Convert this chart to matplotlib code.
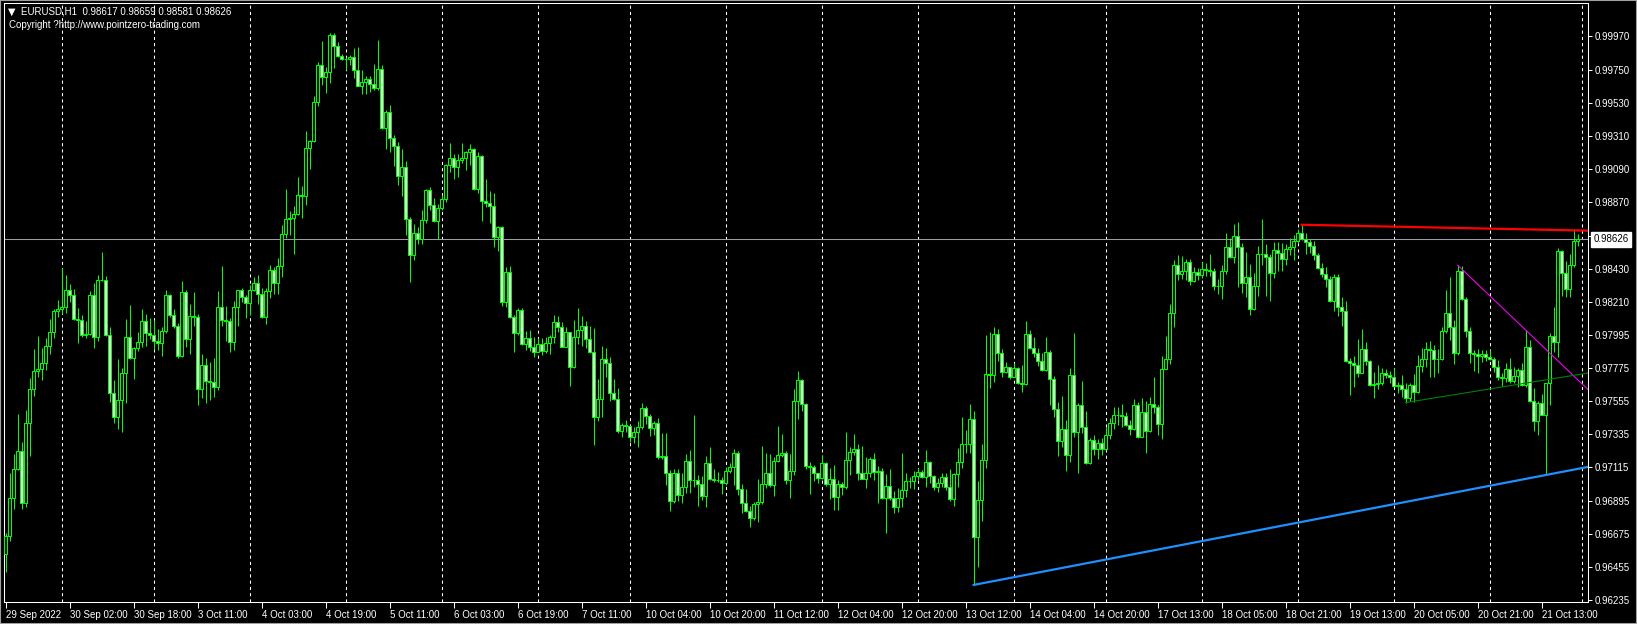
import numpy as np
import pandas as pd
import matplotlib
matplotlib.use("Agg")
import matplotlib.pyplot as plt
from matplotlib.patches import Rectangle
from matplotlib.transforms import blended_transform_factory

plt.rcParams['font.family'] = ['Liberation Sans', 'DejaVu Sans']

# %%
# EURUSD H1 bars (open = previous close)
first_open = 0.96539

closes = [
    0.96661, 0.96910, 0.97102, 0.97224, 0.96882, 0.97407, 0.97632, 0.97754, 0.97769, 0.97809,
    0.97919, 0.98012, 0.98151, 0.98162, 0.98175, 0.98290, 0.98255, 0.98098, 0.98092, 0.97994,
    0.97997, 0.98255, 0.97981, 0.98357, 0.98354, 0.97992, 0.97606, 0.97451, 0.97562, 0.97738,
    0.97977, 0.97840, 0.97904, 0.97946, 0.98085, 0.98003, 0.97990, 0.97955, 0.97937, 0.98017,
    0.98255, 0.98125, 0.98054, 0.97855, 0.98277, 0.97964, 0.98120, 0.98114, 0.97632, 0.97794,
    0.97688, 0.97683, 0.97644, 0.98178, 0.98088, 0.98085, 0.97948, 0.98178, 0.98288, 0.98246,
    0.98207, 0.98288, 0.98335, 0.98266, 0.98114, 0.98284, 0.98421, 0.98333, 0.98447, 0.98664,
    0.98759, 0.98765, 0.98792, 0.98916, 0.98911, 0.99229, 0.99278, 0.99534, 0.99781, 0.99704,
    0.99737, 0.99980, 0.99903, 0.99843, 0.99819, 0.99823, 0.99834, 0.99750, 0.99644, 0.99666,
    0.99686, 0.99653, 0.99627, 0.99752, 0.99362, 0.99468, 0.99300, 0.99242, 0.99048, 0.99102,
    0.98758, 0.98524, 0.98670, 0.98630, 0.98754, 0.98950, 0.98851, 0.98749, 0.98833, 0.98891,
    0.99116, 0.99162, 0.99102, 0.99151, 0.99162, 0.99204, 0.99222, 0.98957, 0.99178, 0.98877,
    0.98868, 0.98846, 0.98643, 0.98705, 0.98213, 0.98411, 0.98113, 0.98007, 0.98157, 0.97932,
    0.97970, 0.97915, 0.97881, 0.97930, 0.97888, 0.97937, 0.97976, 0.98078, 0.98047, 0.97915,
    0.98012, 0.97778, 0.97976, 0.98025, 0.98052, 0.97968, 0.97877, 0.97451, 0.97566, 0.97831,
    0.97805, 0.97610, 0.97568, 0.97359, 0.97394, 0.97389, 0.97319, 0.97352, 0.97381, 0.97509,
    0.97458, 0.97378, 0.97407, 0.97182, 0.97191, 0.97076, 0.96895, 0.97076, 0.96935, 0.96983,
    0.97155, 0.97032, 0.97034, 0.97007, 0.96926, 0.97142, 0.97038, 0.97032, 0.97032, 0.97010,
    0.97089, 0.97120, 0.97208, 0.96974, 0.96877, 0.96824, 0.96780, 0.96873, 0.96886, 0.97005,
    0.97076, 0.96996, 0.97155, 0.97200, 0.97208, 0.97032, 0.97089, 0.97555, 0.97694, 0.97533,
    0.97127, 0.97120, 0.97080, 0.97047, 0.97142, 0.97005, 0.97036, 0.96917, 0.97005, 0.96988,
    0.97164, 0.97215, 0.97235, 0.97080, 0.97041, 0.97076, 0.97173, 0.97087, 0.97089, 0.96912,
    0.96992, 0.96912, 0.96851, 0.96912, 0.96965, 0.97023, 0.97027, 0.97058, 0.97085, 0.97054,
    0.97151, 0.97058, 0.96988, 0.97010, 0.97049, 0.96983, 0.96904, 0.97071, 0.97151, 0.97270,
    0.97272, 0.97434, 0.96656, 0.96899, 0.97164, 0.97734, 0.97725, 0.98000, 0.97870, 0.97749,
    0.97778, 0.97716, 0.97773, 0.97672, 0.97668, 0.97998, 0.97908, 0.97875, 0.97817, 0.97760,
    0.97879, 0.97703, 0.97504, 0.97292, 0.97367, 0.97197, 0.97725, 0.97351, 0.97526, 0.97385,
    0.97142, 0.97296, 0.97234, 0.97274, 0.97239, 0.97327, 0.97407, 0.97460, 0.97462, 0.97455,
    0.97396, 0.97371, 0.97528, 0.97318, 0.97482, 0.97354, 0.97535, 0.97513, 0.97402, 0.97764,
    0.97831, 0.98135, 0.98453, 0.98396, 0.98414, 0.98475, 0.98347, 0.98409, 0.98391, 0.98427,
    0.98422, 0.98414, 0.98319, 0.98316, 0.98414, 0.98573, 0.98511, 0.98648, 0.98573, 0.98334,
    0.98374, 0.98166, 0.98316, 0.98528, 0.98530, 0.98511, 0.98405, 0.98555, 0.98533, 0.98497,
    0.98564, 0.98573, 0.98617, 0.98667, 0.98626, 0.98610, 0.98581, 0.98524, 0.98436, 0.98396,
    0.98361, 0.98219, 0.98374, 0.98179, 0.98149, 0.97822, 0.97804, 0.97791, 0.97742, 0.97897,
    0.97822, 0.97658, 0.97665, 0.97672, 0.97738, 0.97725, 0.97716, 0.97656, 0.97661, 0.97632,
    0.97574, 0.97658, 0.97614, 0.97786, 0.97831, 0.97897, 0.97895, 0.97835, 0.97831, 0.98016,
    0.98135, 0.98047, 0.97870, 0.98416, 0.98232, 0.98021, 0.97870, 0.97868, 0.97855, 0.97864,
    0.97848, 0.97835, 0.97782, 0.97711, 0.97705, 0.97769, 0.97689, 0.97720, 0.97760, 0.97658,
    0.97910, 0.97557, 0.97420, 0.97539, 0.97464, 0.97672, 0.97985, 0.97945, 0.98548, 0.98405,
    0.98294, 0.98453, 0.98617, 0.98626,
]

highs = [
    0.96679, 0.97076, 0.97204, 0.97469, 0.97283, 0.97495, 0.97705, 0.97900, 0.97986, 0.97906,
    0.97972, 0.98100, 0.98162, 0.98224, 0.98436, 0.98390, 0.98330, 0.98295, 0.98171, 0.98122,
    0.98085, 0.98284, 0.98337, 0.98390, 0.98542, 0.98383, 0.98047, 0.97694, 0.97833, 0.97774,
    0.98100, 0.98193, 0.97915, 0.98012, 0.98167, 0.98131, 0.98107, 0.98092, 0.98034, 0.98047,
    0.98290, 0.98264, 0.98162, 0.98070, 0.98352, 0.98290, 0.98198, 0.98277, 0.98131, 0.97867,
    0.97842, 0.97816, 0.97842, 0.98280, 0.98452, 0.98185, 0.98107, 0.98218, 0.98291, 0.98302,
    0.98258, 0.98324, 0.98379, 0.98386, 0.98302, 0.98306, 0.98456, 0.98439, 0.98500, 0.98721,
    0.98960, 0.98810, 0.98847, 0.99039, 0.98980, 0.99344, 0.99286, 0.99578, 0.99797, 0.99936,
    0.99770, 0.99989, 0.99993, 0.99931, 0.99856, 0.99834, 0.99847, 0.99894, 0.99900, 0.99744,
    0.99708, 0.99710, 0.99786, 0.99947, 0.99781, 0.99483, 0.99516, 0.99317, 0.99269, 0.99222,
    0.99144, 0.98771, 0.98727, 0.98705, 0.98820, 0.98957, 0.98972, 0.98899, 0.98860, 0.98917,
    0.99125, 0.99264, 0.99191, 0.99191, 0.99261, 0.99211, 0.99257, 0.99228, 0.99204, 0.99186,
    0.99023, 0.98946, 0.98930, 0.98714, 0.98714, 0.98445, 0.98449, 0.98124, 0.98173, 0.98169,
    0.98021, 0.98025, 0.97976, 0.97970, 0.97970, 0.97976, 0.97990, 0.98124, 0.98118, 0.98078,
    0.98043, 0.98012, 0.98091, 0.98171, 0.98118, 0.98085, 0.98052, 0.98038, 0.97703, 0.97919,
    0.97906, 0.97849, 0.97701, 0.97641, 0.97407, 0.97429, 0.97396, 0.97385, 0.97423, 0.97544,
    0.97522, 0.97469, 0.97425, 0.97442, 0.97341, 0.97341, 0.97098, 0.97102, 0.97105, 0.97076,
    0.97204, 0.97230, 0.97462, 0.97065, 0.97058, 0.97191, 0.97250, 0.97107, 0.97085, 0.97054,
    0.97120, 0.97142, 0.97235, 0.97224, 0.97005, 0.96972, 0.96860, 0.96888, 0.97038, 0.97257,
    0.97208, 0.97204, 0.97186, 0.97389, 0.97336, 0.97226, 0.97204, 0.97635, 0.97756, 0.97699,
    0.97539, 0.97153, 0.97131, 0.97080, 0.97195, 0.97151, 0.97111, 0.97131, 0.97032, 0.97018,
    0.97350, 0.97248, 0.97336, 0.97270, 0.97257, 0.97186, 0.97182, 0.97213, 0.97124, 0.97111,
    0.97071, 0.97107, 0.96961, 0.96979, 0.97213, 0.97076, 0.97054, 0.97089, 0.97111, 0.97098,
    0.97230, 0.97160, 0.97067, 0.97045, 0.97076, 0.97076, 0.97102, 0.97080, 0.97241, 0.97447,
    0.97363, 0.97535, 0.97491, 0.97027, 0.97270, 0.97990, 0.98010, 0.98045, 0.98030, 0.97897,
    0.97813, 0.97782, 0.97809, 0.97782, 0.97793, 0.98087, 0.98025, 0.97981, 0.97906, 0.97875,
    0.97981, 0.97892, 0.97720, 0.97550, 0.97588, 0.97429, 0.97775, 0.98007, 0.97544, 0.97687,
    0.97491, 0.97310, 0.97329, 0.97305, 0.97310, 0.97385, 0.97442, 0.97517, 0.97517, 0.97535,
    0.97482, 0.97429, 0.97566, 0.97548, 0.97574, 0.97552, 0.97579, 0.97714, 0.97530, 0.97853,
    0.97987, 0.98197, 0.98489, 0.98520, 0.98515, 0.98493, 0.98493, 0.98444, 0.98436, 0.98475,
    0.98467, 0.98528, 0.98433, 0.98363, 0.98453, 0.98670, 0.98634, 0.98727, 0.98740, 0.98599,
    0.98544, 0.98462, 0.98402, 0.98581, 0.98760, 0.98595, 0.98528, 0.98608, 0.98608, 0.98603,
    0.98595, 0.98634, 0.98656, 0.98696, 0.98718, 0.98670, 0.98626, 0.98612, 0.98537, 0.98467,
    0.98444, 0.98383, 0.98396, 0.98396, 0.98241, 0.98217, 0.97839, 0.97853, 0.97963, 0.98029,
    0.97945, 0.97826, 0.97747, 0.97793, 0.97775, 0.97764, 0.97756, 0.97773, 0.97680, 0.97727,
    0.97672, 0.97672, 0.97733, 0.97862, 0.97903, 0.97945, 0.97950, 0.97923, 0.97901, 0.98047,
    0.98290, 0.98374, 0.98091, 0.98455, 0.98449, 0.98246, 0.98047, 0.97892, 0.97897, 0.97892,
    0.97892, 0.97892, 0.97848, 0.97826, 0.97738, 0.97809, 0.97839, 0.97778, 0.97773, 0.97804,
    0.98025, 0.97959, 0.97639, 0.97552, 0.97601, 0.97676, 0.98003, 0.98175, 0.98566, 0.98555,
    0.98482, 0.98528, 0.98692, 0.98659,
]

lows = [
    0.96425, 0.96630, 0.96837, 0.97098, 0.96842, 0.96855, 0.97193, 0.97590, 0.97712, 0.97694,
    0.97760, 0.97866, 0.97970, 0.98114, 0.98131, 0.98140, 0.98213, 0.98092, 0.97941, 0.97981,
    0.97972, 0.97992, 0.97906, 0.97955, 0.98348, 0.97988, 0.97551, 0.97412, 0.97370, 0.97352,
    0.97540, 0.97836, 0.97703, 0.97888, 0.97915, 0.97919, 0.97966, 0.97897, 0.97893, 0.97853,
    0.98008, 0.98114, 0.98039, 0.97842, 0.97849, 0.97915, 0.97866, 0.98052, 0.97529, 0.97573,
    0.97544, 0.97562, 0.97584, 0.97628, 0.98054, 0.97953, 0.97882, 0.97893, 0.98054, 0.98213,
    0.98103, 0.98125, 0.98280, 0.98200, 0.98103, 0.98063, 0.98235, 0.98262, 0.98262, 0.98379,
    0.98633, 0.98651, 0.98527, 0.98787, 0.98770, 0.98854, 0.99092, 0.99269, 0.99512, 0.99649,
    0.99596, 0.99664, 0.99763, 0.99830, 0.99816, 0.99748, 0.99781, 0.99693, 0.99640, 0.99591,
    0.99587, 0.99604, 0.99615, 0.99615, 0.99357, 0.99225, 0.99207, 0.99108, 0.98986, 0.98913,
    0.98654, 0.98345, 0.98489, 0.98595, 0.98595, 0.98736, 0.98820, 0.98743, 0.98626, 0.98820,
    0.98875, 0.99074, 0.99025, 0.99041, 0.99129, 0.99087, 0.99118, 0.98952, 0.98930, 0.98749,
    0.98842, 0.98736, 0.98577, 0.98551, 0.98184, 0.98180, 0.98107, 0.97881, 0.97992, 0.97926,
    0.97893, 0.97888, 0.97848, 0.97893, 0.97859, 0.97870, 0.97866, 0.97941, 0.98012, 0.97910,
    0.97910, 0.97656, 0.97771, 0.97932, 0.97919, 0.97906, 0.97870, 0.97263, 0.97424, 0.97447,
    0.97712, 0.97557, 0.97562, 0.97345, 0.97314, 0.97352, 0.97286, 0.97279, 0.97253, 0.97367,
    0.97403, 0.97323, 0.97330, 0.97169, 0.97173, 0.96996, 0.96829, 0.96882, 0.96895, 0.96877,
    0.96943, 0.96948, 0.96983, 0.96860, 0.96899, 0.96855, 0.97032, 0.97018, 0.97021, 0.96939,
    0.96996, 0.97076, 0.96996, 0.96932, 0.96815, 0.96820, 0.96718, 0.96767, 0.96754, 0.96873,
    0.96977, 0.96983, 0.96926, 0.97151, 0.97186, 0.97005, 0.96912, 0.97065, 0.97438, 0.97491,
    0.97105, 0.96939, 0.97027, 0.97014, 0.97036, 0.96992, 0.96908, 0.96833, 0.96833, 0.96932,
    0.96974, 0.97065, 0.97197, 0.97032, 0.97036, 0.96979, 0.97054, 0.97032, 0.96882, 0.96904,
    0.96683, 0.96899, 0.96811, 0.96822, 0.96855, 0.96921, 0.96976, 0.96974, 0.97032, 0.97045,
    0.96983, 0.97010, 0.96965, 0.96952, 0.96983, 0.96965, 0.96890, 0.96862, 0.96988, 0.97111,
    0.97213, 0.97208, 0.96336, 0.96458, 0.96760, 0.97111, 0.97641, 0.97683, 0.97820, 0.97716,
    0.97738, 0.97700, 0.97716, 0.97667, 0.97616, 0.97660, 0.97901, 0.97844, 0.97786, 0.97751,
    0.97751, 0.97530, 0.97451, 0.97190, 0.97252, 0.97093, 0.97151, 0.97314, 0.97075, 0.97340,
    0.97137, 0.97137, 0.97197, 0.97173, 0.97197, 0.97230, 0.97305, 0.97371, 0.97393, 0.97385,
    0.97389, 0.97332, 0.97362, 0.97310, 0.97314, 0.97208, 0.97349, 0.97473, 0.97327, 0.97301,
    0.97798, 0.97800, 0.98047, 0.98356, 0.98365, 0.98356, 0.98321, 0.98343, 0.98356, 0.98369,
    0.98383, 0.98383, 0.98290, 0.98263, 0.98232, 0.98396, 0.98502, 0.98471, 0.98312, 0.98272,
    0.98246, 0.98124, 0.98160, 0.98250, 0.98458, 0.98250, 0.98219, 0.98369, 0.98418, 0.98418,
    0.98453, 0.98524, 0.98489, 0.98603, 0.98621, 0.98528, 0.98537, 0.98489, 0.98431, 0.98374,
    0.98308, 0.98213, 0.98153, 0.98118, 0.98051, 0.97815, 0.97597, 0.97650, 0.97716, 0.97738,
    0.97795, 0.97654, 0.97577, 0.97636, 0.97663, 0.97707, 0.97676, 0.97650, 0.97610, 0.97583,
    0.97544, 0.97557, 0.97550, 0.97610, 0.97749, 0.97782, 0.97716, 0.97716, 0.97738, 0.97826,
    0.98003, 0.97959, 0.97800, 0.97859, 0.98224, 0.97981, 0.97809, 0.97756, 0.97738, 0.97815,
    0.97822, 0.97826, 0.97749, 0.97694, 0.97654, 0.97683, 0.97676, 0.97672, 0.97650, 0.97654,
    0.97650, 0.97550, 0.97358, 0.97327, 0.97462, 0.97064, 0.97526, 0.97879, 0.97848, 0.98250,
    0.98241, 0.98241, 0.98444, 0.98581,
]

price_ticks = [0.99970, 0.99750, 0.99530, 0.99310, 0.99090, 0.98870, 0.98650, 0.98430, 0.98210,
               0.97995, 0.97775, 0.97555, 0.97335, 0.97115, 0.96895, 0.96675, 0.96455, 0.96235]
bid = 0.98626

# trend lines: two anchor points (bar index, price), drawn as rays to the right
red_line = [(324, 0.98722), (392, 0.98685)]
blue_line = [(242, 0.96336), (385, 0.97064)]
magenta_line = [(363, 0.98455), (380, 0.98025)]
green_line = [(350, 0.97544), (384, 0.97690)]

header = "EURUSD,H1  0.98617 0.98659 0.98581 0.98626"
copyright_txt = "Copyright ?http://www.pointzero-trading.com"

# %%
# Build OHLC arrays and bar times
n = len(closes)
closes = np.array(closes)
opens = np.concatenate([[first_open], closes[:-1]])
highs = np.maximum(np.array(highs), np.maximum(opens, closes))
lows = np.minimum(np.array(lows), np.minimum(opens, closes))
x = np.arange(n)

times = []
for d in pd.bdate_range('2022-09-29', '2022-10-21'):
    last_hour = 23 if d.dayofweek == 4 else 24
    for h in range(last_hour):
        times.append(d + pd.Timedelta(hours=h))
times = [t for t in times if t >= pd.Timestamp('2022-09-29 10:00')][:n]

# %%
# Plot
W, H = 1637, 624
fig = plt.figure(figsize=(W / 100, H / 100), dpi=100, facecolor='black')
ax = fig.add_axes([4 / W, 22 / H, 1584 / W, 599 / H], facecolor='black')
ax.set_xlim(-0.42, 395.6)
ax.set_ylim(0.96223, 1.00191)

# day separators
day_idx = [i for i, t in enumerate(times) if t.hour == 0] + [n]
for d in day_idx:
    ax.axvline(d, color='white', lw=0.75, ls=(0, (3, 3)), zorder=1)

ax.axhline(bid, color='#9c9ca6', lw=0.75, zorder=1)

lime = '#00ff00'
ax.vlines(x, lows, highs, color=lime, lw=0.75, zorder=3)
for i in range(n):
    o, c = opens[i], closes[i]
    fill = 'black' if c >= o else 'white'
    ax.add_patch(Rectangle((i - 0.32, min(o, c)), 0.64, abs(c - o),
                           facecolor=fill, edgecolor=lime, lw=0.75, zorder=4))

xr = ax.get_xlim()[1]
def ray(pts):
    (x0, y0), (x1, y1) = pts
    s = (y1 - y0) / (x1 - x0)
    return [x0, xr], [y0, y0 + s * (xr - x0)]

ax.plot(*ray(red_line), color='#ff0000', lw=1.6, zorder=5)
ax.plot(*ray(blue_line), color='#1e90ff', lw=1.6, zorder=5)
ax.plot(*ray(magenta_line), color='#ff00ff', lw=0.75, zorder=5)
ax.plot(*ray(green_line), color='#008000', lw=0.8, zorder=5)

# axes styling
for s in ax.spines.values():
    s.set_color('white')
    s.set_linewidth(0.75)

ax.yaxis.tick_right()
ax.set_yticks(price_ticks)
ax.set_yticklabels([f"{p:.5f}" for p in price_ticks])
ax.tick_params(axis='y', colors='white', length=3, width=0.75, pad=2, labelsize=7)

lab_idx = list(range(0, n, 16))
lab_txt = ["29 Sep 2022" if i == 0 else f"{times[i].day} {times[i]:%b %H:%M}" for i in lab_idx]
ax.set_xticks(lab_idx)
ax.set_xticklabels(lab_txt)
ax.tick_params(axis='x', colors='white', length=4, width=0.75, pad=2, labelsize=7)
for lab in ax.get_xticklabels():
    lab.set_ha('left')
    lab.set_fontfamily(['Liberation Sans Narrow', 'Liberation Sans', 'DejaVu Sans'])

# current price box
tr = blended_transform_factory(ax.transAxes, ax.transData)
ax.text(1.0035, bid, f"{bid:.5f}", transform=tr, fontsize=7, color='black', va='center', ha='left',
        bbox=dict(boxstyle='square,pad=0.25', facecolor='white', edgecolor='white'),
        clip_on=False, zorder=10)

# header texts
fig.text(8 / W, 1 - 12 / H, "\u25bc", color='white', fontsize=7, va='center', ha='left',
         family=['DejaVu Sans'])
fig.text(21 / W, 1 - 12 / H, header, color='white', fontsize=7, va='center', ha='left')
fig.text(9 / W, 1 - 25 / H, copyright_txt, color='white', fontsize=7, va='center', ha='left')

# window frame
fig.patches.append(Rectangle((0, 0), 1, 1, transform=fig.transFigure, fill=False,
                             edgecolor='#a0a0a0', lw=1.5))

fig.savefig('out.png', dpi=100, facecolor='black')
